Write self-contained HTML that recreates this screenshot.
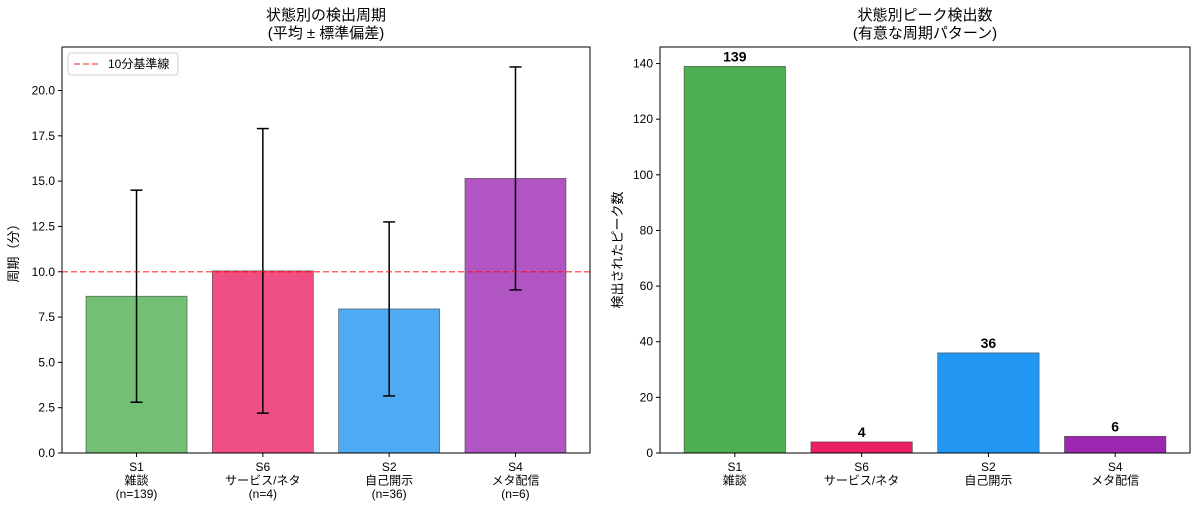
<!DOCTYPE html>
<html><head><meta charset="utf-8"><style>
body{margin:0;background:#fff;}
svg text{font-family:"Liberation Sans","Noto Sans CJK JP",sans-serif;fill:#000;}
</style></head><body>
<svg width="1200" height="510" viewBox="0 0 1200 510" xmlns="http://www.w3.org/2000/svg">
<g id="left"></g>
<g id="right"></g>
</svg>
<script>
const cats1 = ["S1","S6","S2","S4"];
const names1 = ["雑談","サービス/ネタ","自己開示","メタ配信"];
const nLabels = ["(n=139)","(n=4)","(n=36)","(n=6)"];
const means = [8.65, 10.05, 7.95, 15.15];
const stds = [5.85, 7.85, 4.8, 6.15];
const leftTicks = [0,2.5,5,7.5,10,12.5,15,17.5,20];
const baseline = 10;
const peaks = [139, 4, 36, 6];
const rightTicks = [0,20,40,60,80,100,120,140];
const colors1 = ["#73bf73","#ef4f82","#4eaaf3","#b055c2"];
const colors2 = ["#4caf50","#e91e63","#2196f3","#9c27b0"];
const NS="http://www.w3.org/2000/svg";
function mk(p,t,a,txt){const e=document.createElementNS(NS,t);for(const k in a)e.setAttribute(k,a[k]);if(txt!==undefined)e.textContent=txt;p.appendChild(e);return e;}
function axes(g,x0,x1,y0,y1,ymax,ticks,fmt,title,ylabel,ylx,cats,names,extra,vals,cols,errs,labelsTop){
  const xs=i=>x0+(i+0.59)*(x1-x0)/4.18;
  const ys=v=>y1-v*(y1-y0)/ymax;
  const bw=0.8*(x1-x0)/4.18;
  title.forEach((t,k)=>{const e=mk(g,'text',{x:(x0+x1)/2,y:20+k*18,'text-anchor':'middle','font-size':15},t);});
  ticks.forEach(t=>{mk(g,'line',{x1:x0-4,x2:x0,y1:ys(t),y2:ys(t),stroke:'#000'});const e=mk(g,'text',{x:x0-7,y:ys(t)+4,'text-anchor':'end','font-size':12},fmt(t));});
  const yl=mk(g,'text',{transform:`translate(${ylx},${(y0+y1)/2}) rotate(-90)`,'text-anchor':'middle','font-size':13},ylabel);
  
  vals.forEach((v,i)=>{
    const r=mk(g,'rect',{x:xs(i)-bw/2,y:ys(v),width:bw,height:ys(0)-ys(v),fill:cols[i],stroke:'#333','stroke-width':0.7,'stroke-opacity':0.7});
    
    if(errs){const lo=ys(v-errs[i]),hi=ys(v+errs[i]);
      mk(g,'line',{x1:xs(i),x2:xs(i),y1:lo,y2:hi,stroke:'#000','stroke-width':1.5});
      mk(g,'line',{x1:xs(i)-6,x2:xs(i)+6,y1:lo,y2:lo,stroke:'#000','stroke-width':1.5});
      mk(g,'line',{x1:xs(i)-6,x2:xs(i)+6,y1:hi,y2:hi,stroke:'#000','stroke-width':1.5});}
    if(labelsTop){const e=mk(g,'text',{x:xs(i),y:ys(v)-5,'text-anchor':'middle','font-size':14,'font-weight':'bold'},String(v));}
    mk(g,'line',{x1:xs(i),x2:xs(i),y1:y1,y2:y1+4,stroke:'#000'});
    const lines=[cats[i],names[i]].concat(extra?[extra[i]]:[]);
    lines.forEach((t,k)=>{const e=mk(g,'text',{x:xs(i),y:y1+18+k*13.5,'text-anchor':'middle','font-size':12},t);});
  });
  const f=mk(g,'rect',{x:x0,y:y0,width:x1-x0,height:y1-y0,fill:'none',stroke:'#000','stroke-width':1});
  
  return ys;
}
const L=document.getElementById('left');
const ysL=axes(L,62,590,47,453,22.4,leftTicks,t=>t.toFixed(1),["状態別の検出周期","(平均 ± 標準偏差)"],"周期（分）",18,cats1,names1,nLabels,means,colors1,stds,false);
const bl=mk(L,'line',{x1:62,x2:590,y1:ysL(baseline),y2:ysL(baseline),stroke:'#f00','stroke-opacity':0.6,'stroke-width':1.5,'stroke-dasharray':'6,3'});

const lg=mk(L,'g',{});
mk(lg,'rect',{x:68,y:53,width:110,height:22,rx:3,fill:'#fff',stroke:'#ccc'});
mk(lg,'line',{x1:74,x2:100,y1:64,y2:64,stroke:'#f00','stroke-opacity':0.6,'stroke-width':1.5,'stroke-dasharray':'6,3'});
const lt=mk(lg,'text',{x:108,y:68,'font-size':12},"10分基準線");

const R=document.getElementById('right');
axes(R,660,1190,47,453,145.95,rightTicks,t=>String(t),["状態別ピーク検出数","(有意な周期パターン)"],"検出されたピーク数",622,cats1,names1,null,peaks,colors2,null,true);
</script>
</body></html>
